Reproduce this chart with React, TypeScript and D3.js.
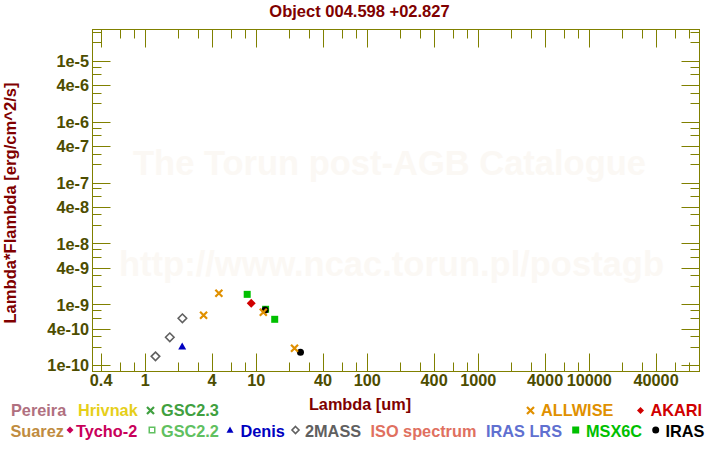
import React from "react";
import * as d3 from "d3";

// ---- data ----
const twoMassWl = [1.235, 1.662, 2.159];
const twoMassFlux = [1.43e-10, 2.94e-10, 6.03e-10];
const denisWl = [2.15];
const denisFlux = [2.08e-10];
const allwiseWl = [3.35, 4.6, 11.56, 22.1];
const allwiseFlux = [6.75e-10, 1.55e-9, 7.56e-10, 1.94e-10];
const msxWl = [8.28, 12.13, 14.65];
const msxFlux = [1.49e-9, 8.47e-10, 5.8e-10];
const akariWl = [9.0];
const akariFlux = [1.06e-9];
const irasWl = [12, 25];
const irasFlux = [8.24e-10, 1.67e-10];

const xMajorTicks = [0.4, 1, 4, 10, 40, 100, 400, 1000, 4000, 10000, 40000];
const xMinorTicks = [0.6, 0.8, 2, 3, 6, 8, 20, 30, 60, 80, 200, 300, 600, 800, 2000, 3000, 6000, 8000, 20000, 30000, 60000, 80000];
const yMajorTicks = [1e-5, 4e-6, 1e-6, 4e-7, 1e-7, 4e-8, 1e-8, 4e-9, 1e-9, 4e-10, 1e-10];
const yMinorTicks = [3e-5, 2e-5, 8e-6, 6e-6, 3e-6, 2e-6, 8e-7, 6e-7, 3e-7, 2e-7, 8e-8, 6e-8, 3e-8, 2e-8, 8e-9, 6e-9, 3e-9, 2e-9, 8e-10, 6e-10, 3e-10, 2e-10];
const yTickLabels = ["1e-5", "4e-6", "1e-6", "4e-7", "1e-7", "4e-8", "1e-8", "4e-9", "1e-9", "4e-10", "1e-10"];
const xTickLabels = ["0.4", "1", "4", "10", "40", "100", "400", "1000", "4000", "10000", "40000"];

const title = "Object 004.598 +02.827";

// ---- layout ----
const W = 720, H = 450;
const L = 92.5, R = 699.5, T = 29.5, B = 371.5;
const FONT = "'Liberation Sans', Arial, Helvetica, sans-serif";
const OLIVE = "#808000";
const LABEL = "#4d4d00";

const x = d3.scaleLog().domain([0.3344, 98400]).range([L, R]);
const y = d3.scaleLog().domain([8.06e-11, 3.326e-5]).range([B, T]);

type Shape = "x" | "diamond" | "odiamond" | "square" | "osquare" | "triangle" | "circle" | "none";

function Marker({ shape, cx, cy, s, color }: { shape: Shape; cx: number; cy: number; s: number; color: string }) {
  const h = s / 2;
  if (shape === "x")
    return (
      <path d={`M${cx - h},${cy - h}L${cx + h},${cy + h}M${cx - h},${cy + h}L${cx + h},${cy - h}`} stroke={color} strokeWidth={2.2} fill="none" />
    );
  if (shape === "diamond")
    return <path d={`M${cx},${cy - h}L${cx + h},${cy}L${cx},${cy + h}L${cx - h},${cy}Z`} fill={color} />;
  if (shape === "odiamond")
    return <path d={`M${cx},${cy - h}L${cx + h},${cy}L${cx},${cy + h}L${cx - h},${cy}Z`} fill="white" stroke={color} strokeWidth={1.6} />;
  if (shape === "square") return <rect x={cx - h} y={cy - h} width={s} height={s} fill={color} />;
  if (shape === "osquare") return <rect x={cx - h + 0.75} y={cy - h + 0.75} width={s - 1.5} height={s - 1.5} fill="white" stroke={color} strokeWidth={1.5} />;
  if (shape === "triangle")
    return <path d={`M${cx},${cy - h}L${cx + h},${cy + h * 0.8}L${cx - h},${cy + h * 0.8}Z`} fill={color} />;
  if (shape === "circle") return <circle cx={cx} cy={cy} r={h} fill={color} />;
  return null;
}

const series = [
  { wl: twoMassWl, fl: twoMassFlux, shape: "odiamond" as Shape, color: "#606060", size: 8.5 },
  { wl: denisWl, fl: denisFlux, shape: "triangle" as Shape, color: "#0000c0", size: 8 },
  { wl: msxWl, fl: msxFlux, shape: "square" as Shape, color: "#00c000", size: 7 },
  { wl: akariWl, fl: akariFlux, shape: "diamond" as Shape, color: "#d00000", size: 9 },
  { wl: irasWl, fl: irasFlux, shape: "circle" as Shape, color: "#000000", size: 7 },
  { wl: allwiseWl, fl: allwiseFlux, shape: "x" as Shape, color: "#e09000", size: 7 },
];

const legend1 = [
  { name: "Pereira", color: "#b07080", shape: "none" as Shape, mx: 0, tx: 11 },
  { name: "Hrivnak", color: "#e6cf1a", shape: "none" as Shape, mx: 0, tx: 78 },
  { name: "GSC2.3", color: "#40a040", shape: "x" as Shape, mx: 150.5, tx: 161 },
  { name: "ALLWISE", color: "#e09000", shape: "x" as Shape, mx: 530.5, tx: 541 },
  { name: "AKARI", color: "#d00000", shape: "diamond" as Shape, mx: 640.5, tx: 650.5 },
];
const legend2 = [
  { name: "Suarez", color: "#c08c40", shape: "none" as Shape, mx: 0, tx: 10.5 },
  { name: "Tycho-2", color: "#c8005a", shape: "diamond" as Shape, mx: 70, tx: 76 },
  { name: "GSC2.2", color: "#60c060", shape: "osquare" as Shape, mx: 152, tx: 161 },
  { name: "Denis", color: "#0000c0", shape: "triangle" as Shape, mx: 230, tx: 240.5 },
  { name: "2MASS", color: "#606060", shape: "odiamond" as Shape, mx: 295.5, tx: 305 },
  { name: "ISO spectrum", color: "#e07060", shape: "none" as Shape, mx: 0, tx: 370.5 },
  { name: "IRAS LRS", color: "#6070d0", shape: "none" as Shape, mx: 0, tx: 486 },
  { name: "MSX6C", color: "#00c000", shape: "square" as Shape, mx: 575.7, tx: 586 },
  { name: "IRAS", color: "#000000", shape: "circle" as Shape, mx: 655.7, tx: 665.5 },
];

export default function App() {
  const snap = (v: number) => Math.round(v - 0.5) + 0.5;
  return (
    <svg width={W} height={H} style={{ position: "absolute", left: 0, top: 0, background: "white" }} fontFamily={FONT}>
      <rect x={0} y={0} width={W} height={H} fill="white" />
      {/* watermark */}
      <text x={389.5} y={175} textAnchor="middle" fontSize={34.5} fontWeight="bold" fill="#fbf8f4">The Torun post-AGB Catalogue</text>
      <text x={391.5} y={276} textAnchor="middle" fontSize={34.5} fontWeight="bold" fill="#fbf8f4">http://www.ncac.torun.pl/postagb</text>

      {/* title */}
      <text x={359.5} y={17} textAnchor="middle" fontSize={16.5} fontWeight="bold" fill="#800000">{title}</text>

      {/* frame */}
      <rect x={L} y={T} width={R - L} height={B - T} fill="none" stroke={OLIVE} strokeWidth={1} />

      {/* x ticks */}
      {xMajorTicks.map((t) => {
        const px = snap(x(t));
        return (
          <g key={"xM" + t}>
            <line x1={px} x2={px} y1={B} y2={B - 18} stroke={OLIVE} />
            <line x1={px} x2={px} y1={T} y2={T + 18} stroke={OLIVE} />
          </g>
        );
      })}
      {xMinorTicks.map((t) => {
        const px = snap(x(t));
        return (
          <g key={"xm" + t}>
            <line x1={px} x2={px} y1={B} y2={B - 9} stroke={OLIVE} />
            <line x1={px} x2={px} y1={T} y2={T + 9} stroke={OLIVE} />
          </g>
        );
      })}
      {xMajorTicks.map((t, i) => (
        <text key={"xl" + t} x={x(t)} y={385.5} textAnchor="middle" fontSize={16.3} fontWeight="bold" fill={LABEL}>{xTickLabels[i]}</text>
      ))}

      {/* y ticks */}
      {yMajorTicks.map((t) => {
        const py = snap(y(t));
        return (
          <g key={"yM" + t}>
            <line x1={L} x2={L + 18} y1={py} y2={py} stroke={OLIVE} />
            <line x1={R} x2={R - 18} y1={py} y2={py} stroke={OLIVE} />
          </g>
        );
      })}
      {yMinorTicks.map((t) => {
        const py = snap(y(t));
        return (
          <g key={"ym" + t}>
            <line x1={L} x2={L + 9} y1={py} y2={py} stroke={OLIVE} />
            <line x1={R} x2={R - 9} y1={py} y2={py} stroke={OLIVE} />
          </g>
        );
      })}
      {yMajorTicks.map((t, i) => (
        <text key={"yl" + t} x={89} y={y(t) + 5.7} textAnchor="end" fontSize={16.3} fontWeight="bold" fill={LABEL}>{yTickLabels[i]}</text>
      ))}

      {/* axis titles */}
      <text x={360} y={410} textAnchor="middle" fontSize={16.3} fontWeight="bold" fill="#800000">Lambda [um]</text>
      <text transform="translate(15.5,203) rotate(-90)" textAnchor="middle" fontSize={16.6} fontWeight="bold" fill="#800000">Lambda*Flambda [erg/cm^2/s]</text>

      {/* data */}
      {series.map((s, si) =>
        s.wl.map((w, i) => (
          <Marker key={si + "-" + i} shape={s.shape} cx={x(w)} cy={y(s.fl[i])} s={s.size} color={s.color} />
        ))
      )}

      {/* legend */}
      {legend1.map((d) => (
        <g key={"l1" + d.name}>
          <Marker shape={d.shape} cx={d.mx} cy={410.5} s={7} color={d.color} />
          <text x={d.tx} y={416} fontSize={16.3} fontWeight="bold" fill={d.color}>{d.name}</text>
        </g>
      ))}
      {legend2.map((d) => (
        <g key={"l2" + d.name}>
          <Marker shape={d.shape} cx={d.mx} cy={430} s={7} color={d.color} />
          <text x={d.tx} y={437} fontSize={16.3} fontWeight="bold" fill={d.color}>{d.name}</text>
        </g>
      ))}
    </svg>
  );
}
